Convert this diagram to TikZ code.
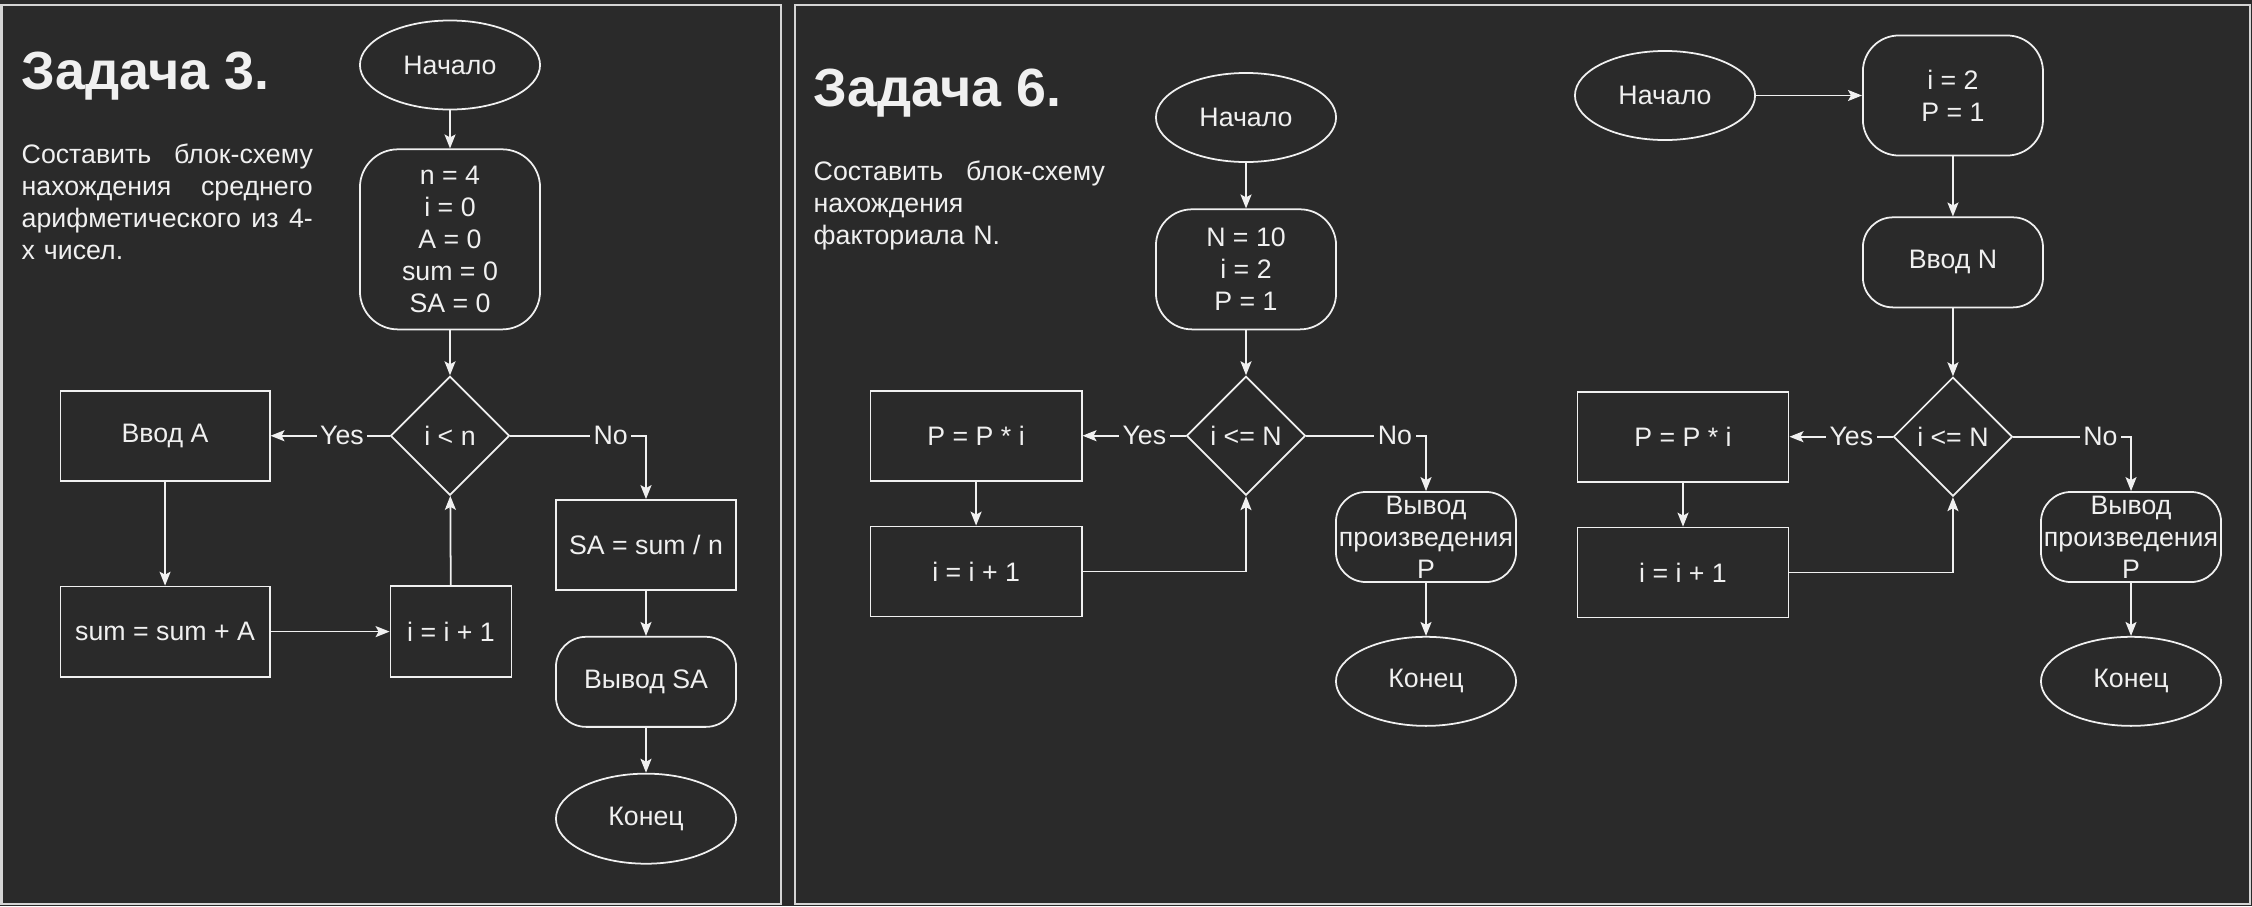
\documentclass[tikz,border=0pt]{standalone}
\usepackage{fontspec}
\setmainfont{Liberation Sans}
\usepackage{tikz}
\usetikzlibrary{positioning,arrows.meta,shapes.geometric}
\usepackage{xcolor}
\definecolor{bgc}{HTML}{2A2A2A}
\definecolor{fg}{HTML}{F0F0F0}
\definecolor{framec}{HTML}{D4D4D4}
\newcommand\nodefont{\fontsize{7.6}{9.1}\selectfont}
\newcommand\ttlfont{\fontsize{15.3}{18}\selectfont\bfseries}
\newcommand\jline[1]{\makebox[2.91cm][l]{#1}}

\tikzset{
  box/.style={draw=fg,line width=0.5pt,text=fg,font=\nodefont,align=center,inner sep=0pt},
  term/.style={box,ellipse,minimum width=1.8cm,minimum height=0.89cm},
  proc/.style={box,rectangle,minimum width=2.1cm,minimum height=0.9cm},
  rnd/.style={box,rectangle,rounded corners=0.3cm,minimum width=1.8cm,minimum height=0.9cm},
  cond/.style={box,diamond,aspect=1,minimum width=1.19cm,minimum height=1.19cm},
  lbl/.style={fill=bgc,text=fg,font=\nodefont,inner sep=1pt},
  ttl/.style={text=fg,font=\ttlfont,inner sep=0pt,anchor=base west},
  txt/.style={text=fg,font=\nodefont,inner sep=0pt,anchor=base west,text width=2.91cm,align=left},
  panel/.style={draw=framec,line width=0.6pt},
  flow/.style={->,draw=fg,line width=0.5pt}
}

\begin{document}
\begin{tikzpicture}[x=0.01cm,y=-0.01cm,>={Stealth[length=0.14cm,width=0.11cm,inset=0.03cm]}]
\fill[bgc] (0,0) rectangle (2252,906);
\draw[panel] (1.5,5) rectangle (781,904);
\draw[panel] (795,5) rectangle (2250,904);

% task 3
\node[ttl] (t3) at (21,89) {Задача 3.};
\node[txt] (q3) at (21,163) {\jline{Составить\hfill блок-схему}\\\jline{нахождения\hfill среднего}\\\jline{арифметического\hfill из\hfill 4-}\\х чисел.};
\node[term] (st1) at (450,65) {Начало};
\node[rnd,rounded corners=0.38cm,minimum height=1.8cm] (ini1) [below=0.38cm of st1] {n = 4\\i = 0\\A = 0\\sum = 0\\SA = 0};
\node[cond] (d1) [below=0.45cm of ini1] {i < n};
\node[proc,minimum width=2.09cm] (in1) [left=1.19cm of d1] {Ввод A};
\node[proc,minimum width=2.09cm] (sum1) [below=1.04cm of in1] {sum = sum + A};
\node[proc,minimum width=1.21cm,minimum height=0.91cm] (inc1) [right=1.19cm of sum1] {i = i + 1};
\node[proc,minimum width=1.8cm] (sa1) at (646,545) {SA = sum / n};
\node[rnd] (out1) [below=0.45cm of sa1] {Вывод SA};
\node[term,minimum height=0.9cm] (end1) [below=0.45cm of out1] {Конец};
\draw[flow] (st1) -- (ini1);
\draw[flow] (ini1) -- (d1);
\draw[flow] (d1) -- node[lbl,pos=0.4]{Yes} (in1);
\draw[flow] (d1.east) -| node[lbl,pos=0.37]{No} (sa1.north);
\draw[flow] (in1) -- (sum1);
\draw[flow] (sum1) -- (inc1);
\draw[flow] (inc1) -- (d1);
\draw[flow] (sa1) -- (out1);
\draw[flow] (out1) -- (end1);

% task 6, first scheme
\node[ttl] (t6) at (813,106) {Задача 6.};
\node[txt] (q6) at (813,180) {\jline{Составить\hfill блок-схему}\\нахождения\\факториала N.};
\node[term] (st2) at (1246,117.5) {Начало};
\node[rnd,rounded corners=0.36cm,minimum height=1.2cm] (ini2) [below=0.455cm of st2] {N = 10\\i = 2\\P = 1};
\node[cond] (d2) [below=0.45cm of ini2] {i <= N};
\node[proc,minimum width=2.11cm] (mul2) [left=1.03cm of d2] {P = P * i};
\node[proc,minimum width=2.11cm] (inc2) [below=0.44cm of mul2] {i = i + 1};
\node[rnd] (out2) at (1426,537) {Вывод\\произведения\\P};
\node[term] (end2) [below=0.53cm of out2] {Конец};
\draw[flow] (st2) -- (ini2);
\draw[flow] (ini2) -- (d2);
\draw[flow] (d2) -- node[lbl,pos=0.4]{Yes} (mul2);
\draw[flow] (d2.east) -| node[lbl,pos=0.37]{No} (out2.north);
\draw[flow] (mul2) -- (inc2);
\draw[flow] (inc2.east) -| (d2.south);
\draw[flow] (out2) -- (end2);

% task 6, second scheme
\node[term] (st3) at (1665,95.5) {Начало};
\node[rnd,rounded corners=0.36cm,minimum height=1.2cm] (ini3) [right=1.06cm of st3] {i = 2\\P = 1};
\node[rnd,rounded corners=0.3cm] (vin3) [below=0.6cm of ini3] {Ввод N};
\node[cond] (d3) [below=0.68cm of vin3] {i <= N};
\node[proc,minimum width=2.11cm] (mul3) [left=1.03cm of d3] {P = P * i};
\node[proc,minimum width=2.11cm] (inc3) [below=0.44cm of mul3] {i = i + 1};
\node[rnd] (out3) at (2131,537) {Вывод\\произведения\\P};
\node[term] (end3) [below=0.53cm of out3] {Конец};
\draw[flow] (st3) -- (ini3);
\draw[flow] (ini3) -- (vin3);
\draw[flow] (vin3) -- (d3);
\draw[flow] (d3) -- node[lbl,pos=0.4]{Yes} (mul3);
\draw[flow] (d3.east) -| node[lbl,pos=0.37]{No} (out3.north);
\draw[flow] (mul3) -- (inc3);
\draw[flow] (inc3.east) -| (d3.south);
\draw[flow] (out3) -- (end3);
\end{tikzpicture}
\end{document}
